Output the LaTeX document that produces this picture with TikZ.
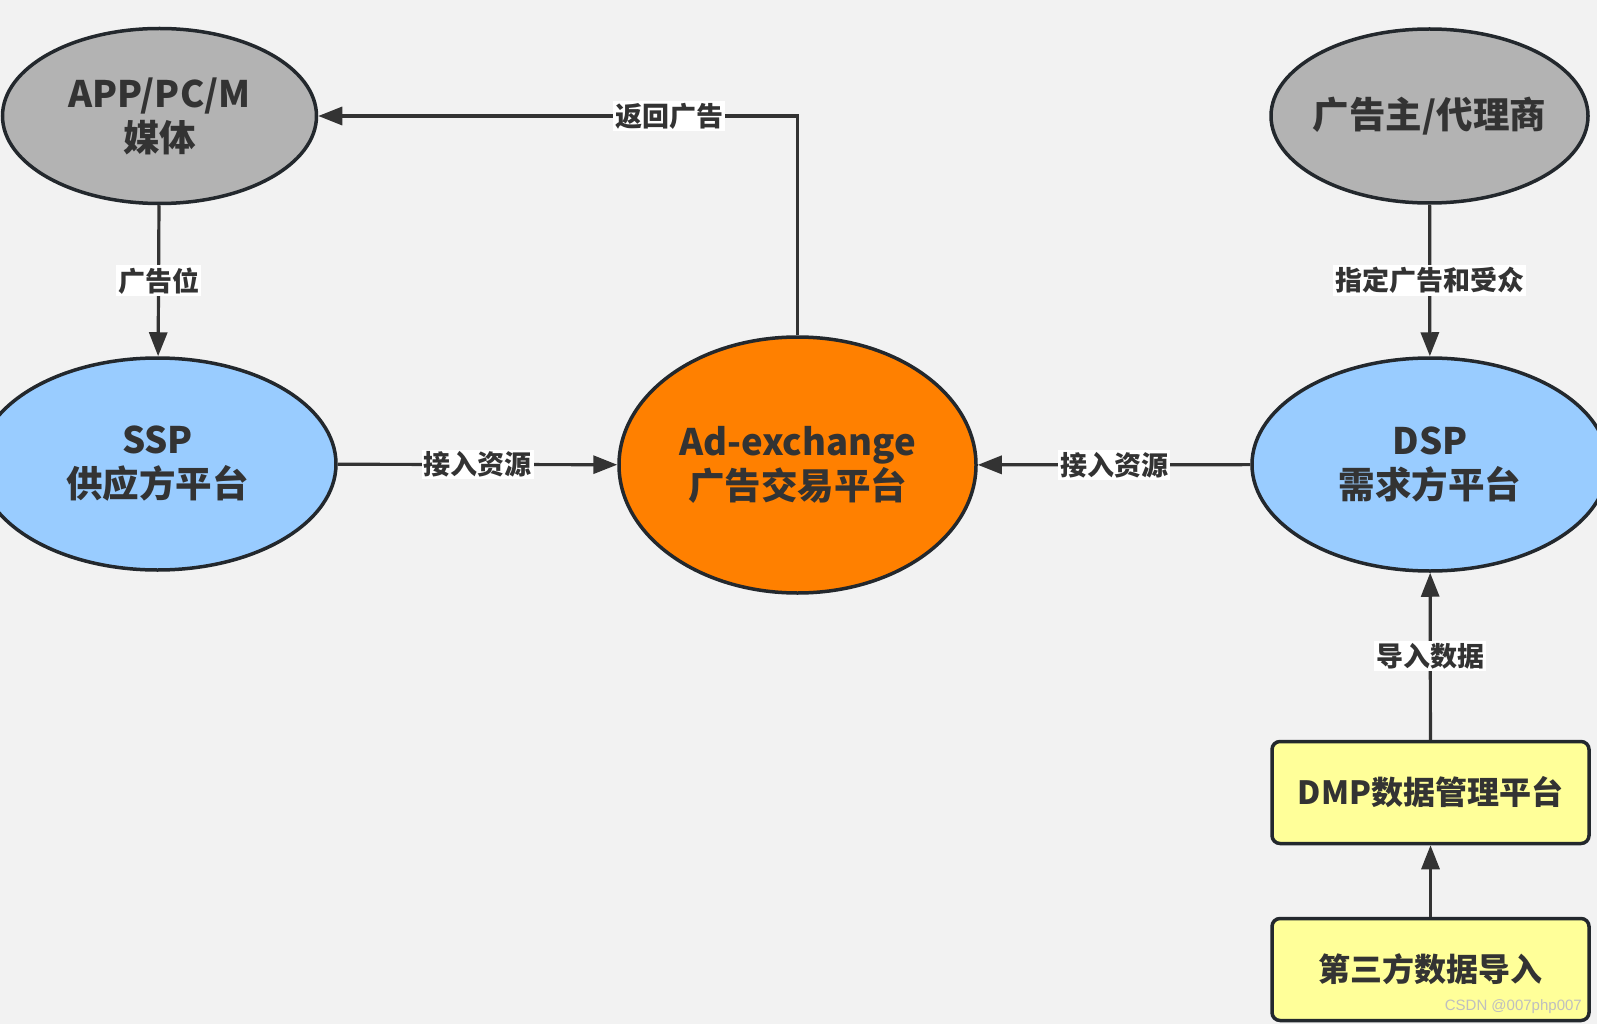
\documentclass[tikz,border=0pt]{standalone}
\usepackage{fontspec}
\setmainfont{Noto Sans CJK SC}
\newfontfamily\wmfont{Liberation Sans}
\usetikzlibrary{shapes.geometric,arrows.meta}
\definecolor{bgc}{HTML}{F2F2F2}
\definecolor{edgec}{HTML}{23282D}
\definecolor{linec}{HTML}{333333}
\definecolor{txtc}{HTML}{333333}
\definecolor{grayfill}{HTML}{B3B3B3}
\definecolor{bluefill}{HTML}{99CCFF}
\definecolor{orangefill}{HTML}{FF8000}
\definecolor{yellowfill}{HTML}{FFFF99}
\begin{document}
\begin{tikzpicture}[x=1pt,y=-1pt,
  ell/.style={ellipse, draw=edgec, line width=3.5pt, inner xsep=-40pt, inner ysep=0pt, text=txtc,
    font=\fontsize{36.5}{44}\selectfont\bfseries, align=center},
  boxnode/.style={rectangle, rounded corners=8pt, draw=edgec, line width=3.5pt,
    fill=yellowfill, minimum width=317pt, minimum height=102pt, inner sep=0pt,
    font=\fontsize{32}{38}\selectfont\bfseries, text=txtc},
  conn/.style={draw=linec, line width=3.2pt, -{Triangle[length=24pt,width=18pt]}},
  lab/.style={fill=white, inner sep=2pt, text=txtc,
    font=\fontsize{27}{30}\selectfont\bfseries}]
\useasboundingbox (0,0) rectangle (1597,1024);
\fill[bgc] (0,0) rectangle (1597,1024);
\clip (0,0) rectangle (1597,1024);

\node[ell, fill=grayfill, minimum width=314pt, minimum height=175pt] (app) at (159.5,116) {APP/PC/M\\媒体};
\node[ell, fill=grayfill, minimum width=317pt, minimum height=174pt] (adv) at (1429.5,116) {广告主/代理商};
\node[ell, fill=bluefill, minimum width=357pt, minimum height=212pt] (ssp) at (157.5,464) {SSP\\供应方平台};
\node[ell, fill=orangefill, minimum width=357pt, minimum height=256pt] (adx) at (797.5,465) {Ad-exchange\\广告交易平台};
\node[ell, fill=bluefill, minimum width=356pt, minimum height=213pt] (dsp) at (1430,464.5) {DSP\\需求方平台};
\node[boxnode] (dmp) at (1430.5,792.5) {DMP数据管理平台};
\node[boxnode] (third) at (1430.5,969.5) {第三方数据导入};
\node[font=\wmfont\fontsize{15}{15}\selectfont, text=gray!50, inner sep=0pt, anchor=east] (wm) at (1582,1007) {CSDN @007php007};

\draw[conn] (app) -- node[lab] {广告位} (ssp);
\draw[conn] (adx.north) |- node[lab, pos=0.634] {返回广告} (app.east);
\draw[conn] (ssp) -- node[lab] {接入资源} (adx);
\draw[conn] (dsp) -- node[lab] {接入资源} (adx);
\draw[conn] (adv) -- node[lab] {指定广告和受众} (dsp);
\draw[conn] (dmp) -- node[lab] {导入数据} (dsp);
\draw[conn] (third) -- (dmp);
\end{tikzpicture}
\end{document}
